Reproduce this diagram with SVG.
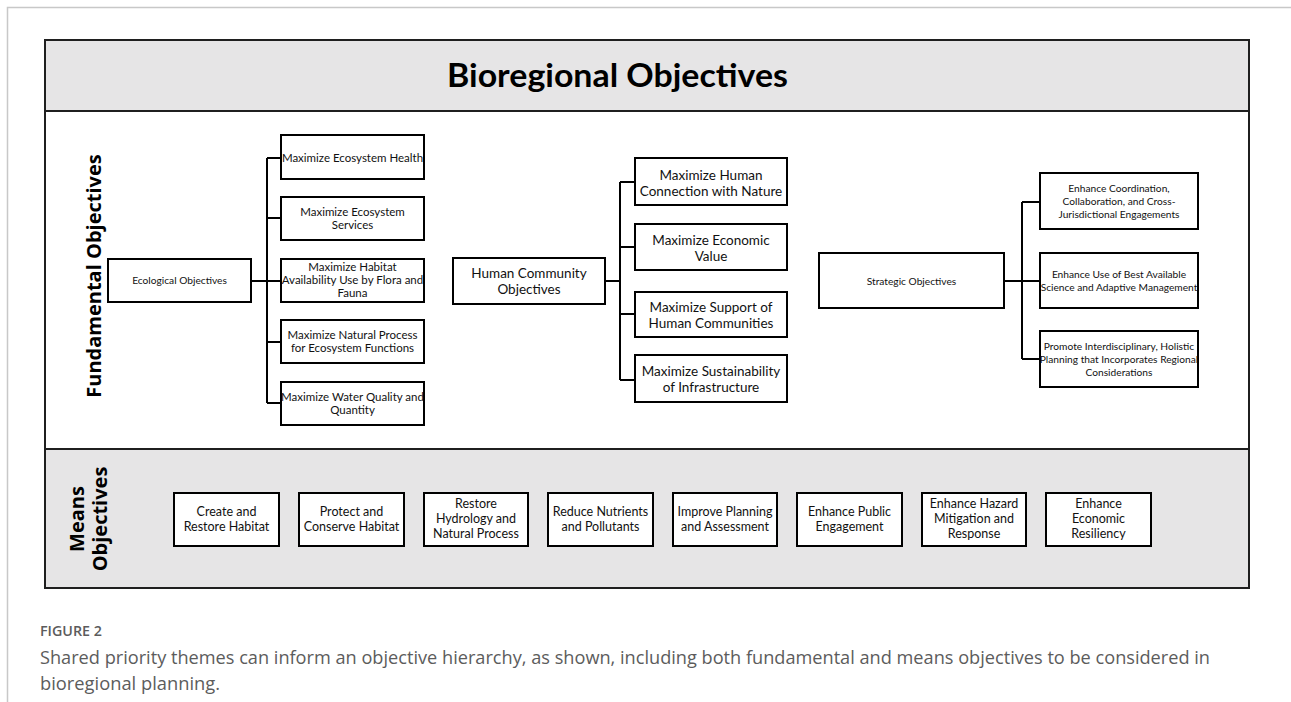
<svg xmlns="http://www.w3.org/2000/svg" width="1291" height="702" viewBox="0 0 1291 702">
<style>
.frame{fill:none;stroke:#1f1f1f;stroke-width:2}
.band{fill:#e6e5e6;stroke:#1f1f1f;stroke-width:2}
.box{fill:#fff;stroke:#000;stroke-width:2}
.t{font-family:Lato,"Open Sans",sans-serif;fill:#111;text-anchor:middle}
.s10{font-size:10.2px}
.s11{font-size:11.5px}
.s12{font-size:12.5px}
.s13{font-size:13.5px}
.conn{fill:none;stroke:#000;stroke-width:2}
.cap{font-family:"Open Sans",Lato,sans-serif;fill:#5c5c5c}
</style>
<rect width="1291" height="702" fill="#fff"/>
<path d="M7.5 702 V7.5 H1291" fill="none" stroke="#c8c8c8" stroke-width="1.5"/>

<rect class="band" x="45" y="40" width="1204" height="71"/>
<rect x="45" y="111" width="1204" height="338" fill="#fff" stroke="#1f1f1f" stroke-width="2"/>
<rect class="band" x="45" y="449" width="1204" height="139"/>
<text x="617.5" y="87" font-family="Lato,'Open Sans',sans-serif" font-weight="bold" font-size="33" text-anchor="middle" fill="#000" textLength="341" lengthAdjust="spacingAndGlyphs">Bioregional Objectives</text>
<text transform="translate(101,276) rotate(-90)" font-family="'Open Sans',Lato,sans-serif" font-weight="bold" font-size="20" text-anchor="middle" fill="#000">Fundamental Objectives</text>
<text transform="translate(84,519) rotate(-90)" font-family="'Open Sans',Lato,sans-serif" font-weight="bold" font-size="20" text-anchor="middle" fill="#000">Means</text>
<text transform="translate(107,519) rotate(-90)" font-family="'Open Sans',Lato,sans-serif" font-weight="bold" font-size="20" text-anchor="middle" fill="#000">Objectives</text>

<g id="connectors">
<path class="conn" d="M251 281 H267 M267 158 V403 M267 158 H281 M267 218 H281 M267 281 H281 M267 342 H281 M267 403 H281"/>
<path class="conn" d="M605 281 H620 M620 182 V380 M620 182 H635 M620 247 H635 M620 314 H635 M620 380 H635"/>
<path class="conn" d="M1004 281 H1022 M1022 202 V359 M1022 202 H1040 M1022 281 H1040 M1022 359 H1040"/>
</g>

<g id="eco">
<rect class="box" x="108" y="259" width="143" height="43"/>
<text class="t s10" x="179.5" y="284">Ecological Objectives</text>
</g>
<g id="eco1"><rect class="box" x="281" y="135" width="143" height="44"/><text class="t s11" x="352.5" y="162">Maximize Ecosystem Health</text></g>
<g id="eco2"><rect class="box" x="281" y="197" width="143" height="43"/><text class="t s11" x="352.5" y="216">Maximize Ecosystem<tspan x="352.5" dy="13">Services</tspan></text></g>
<g id="eco3"><rect class="box" x="281" y="259" width="143" height="43"/><text class="t s11" x="352.5" y="271">Maximize Habitat<tspan x="352.5" dy="13">Availability Use by Flora and</tspan><tspan x="352.5" dy="13">Fauna</tspan></text></g>
<g id="eco4"><rect class="box" x="281" y="320" width="143" height="43"/><text class="t s11" x="352.5" y="339">Maximize Natural Process<tspan x="352.5" dy="13">for Ecosystem Functions</tspan></text></g>
<g id="eco5"><rect class="box" x="281" y="382" width="143" height="43"/><text class="t s11" x="352.5" y="401">Maximize Water Quality and<tspan x="352.5" dy="13">Quantity</tspan></text></g>

<g id="hum">
<rect class="box" x="453" y="258" width="152" height="46"/>
<text class="t s13" x="529" y="278">Human Community<tspan x="529" dy="16">Objectives</tspan></text>
</g>
<g id="hum1"><rect class="box" x="635" y="158" width="152" height="47"/><text class="t s13" x="711" y="180">Maximize Human<tspan x="711" dy="16">Connection with Nature</tspan></text></g>
<g id="hum2"><rect class="box" x="635" y="224" width="152" height="46"/><text class="t s13" x="711" y="245">Maximize Economic<tspan x="711" dy="16">Value</tspan></text></g>
<g id="hum3"><rect class="box" x="635" y="292" width="152" height="45"/><text class="t s13" x="711" y="312">Maximize Support of<tspan x="711" dy="16">Human Communities</tspan></text></g>
<g id="hum4"><rect class="box" x="635" y="355" width="152" height="47"/><text class="t s13" x="711" y="376">Maximize Sustainability<tspan x="711" dy="16">of Infrastructure</tspan></text></g>

<g id="str">
<rect class="box" x="819" y="253" width="185" height="55"/>
<text class="t s10" x="911.5" y="285">Strategic Objectives</text>
</g>
<g id="str1"><rect class="box" x="1040" y="173" width="158" height="56"/><text class="t s10" x="1119" y="192">Enhance Coordination,<tspan x="1119" dy="13">Collaboration, and Cross-</tspan><tspan x="1119" dy="13">Jurisdictional Engagements</tspan></text></g>
<g id="str2"><rect class="box" x="1040" y="253" width="158" height="55"/><text class="t s10" x="1119" y="278">Enhance Use of Best Available<tspan x="1119" dy="13">Science and Adaptive Management</tspan></text></g>
<g id="str3"><rect class="box" x="1040" y="331" width="158" height="56"/><text class="t s10" x="1119" y="350">Promote Interdisciplinary, Holistic<tspan x="1119" dy="13">Planning that Incorporates Regional</tspan><tspan x="1119" dy="13">Considerations</tspan></text></g>

<g id="m1"><rect class="box" x="174" y="493" width="105" height="53"/><text class="t s12" x="226.5" y="516">Create and<tspan x="226.5" dy="15">Restore Habitat</tspan></text></g>
<g id="m2"><rect class="box" x="299" y="493" width="105" height="53"/><text class="t s12" x="351.5" y="516">Protect and<tspan x="351.5" dy="15">Conserve Habitat</tspan></text></g>
<g id="m3"><rect class="box" x="424" y="493" width="104" height="53"/><text class="t s12" x="476" y="508">Restore<tspan x="476" dy="15">Hydrology and</tspan><tspan x="476" dy="15">Natural Process</tspan></text></g>
<g id="m4"><rect class="box" x="548" y="493" width="105" height="53"/><text class="t s12" x="600.5" y="516">Reduce Nutrients<tspan x="600.5" dy="15">and Pollutants</tspan></text></g>
<g id="m5"><rect class="box" x="673" y="493" width="104" height="53"/><text class="t s12" x="725" y="516">Improve Planning<tspan x="725" dy="15">and Assessment</tspan></text></g>
<g id="m6"><rect class="box" x="797" y="493" width="105" height="53"/><text class="t s12" x="849.5" y="516">Enhance Public<tspan x="849.5" dy="15">Engagement</tspan></text></g>
<g id="m7"><rect class="box" x="922" y="493" width="104" height="53"/><text class="t s12" x="974" y="508">Enhance Hazard<tspan x="974" dy="15">Mitigation and</tspan><tspan x="974" dy="15">Response</tspan></text></g>
<g id="m8"><rect class="box" x="1046" y="493" width="105" height="53"/><text class="t s12" x="1098.5" y="508">Enhance<tspan x="1098.5" dy="15">Economic</tspan><tspan x="1098.5" dy="15">Resiliency</tspan></text></g>

<text class="cap" x="40" y="636" font-size="13.5" font-weight="600" fill="#707070" textLength="62" lengthAdjust="spacingAndGlyphs">FIGURE 2</text>
<text class="cap" x="40" y="664" font-size="17.5" textLength="1170" lengthAdjust="spacingAndGlyphs">Shared priority themes can inform an objective hierarchy, as shown, including both fundamental and means objectives to be considered in</text>
<text class="cap" x="40" y="690" font-size="17.5" textLength="180" lengthAdjust="spacingAndGlyphs">bioregional planning.</text>
</svg>
